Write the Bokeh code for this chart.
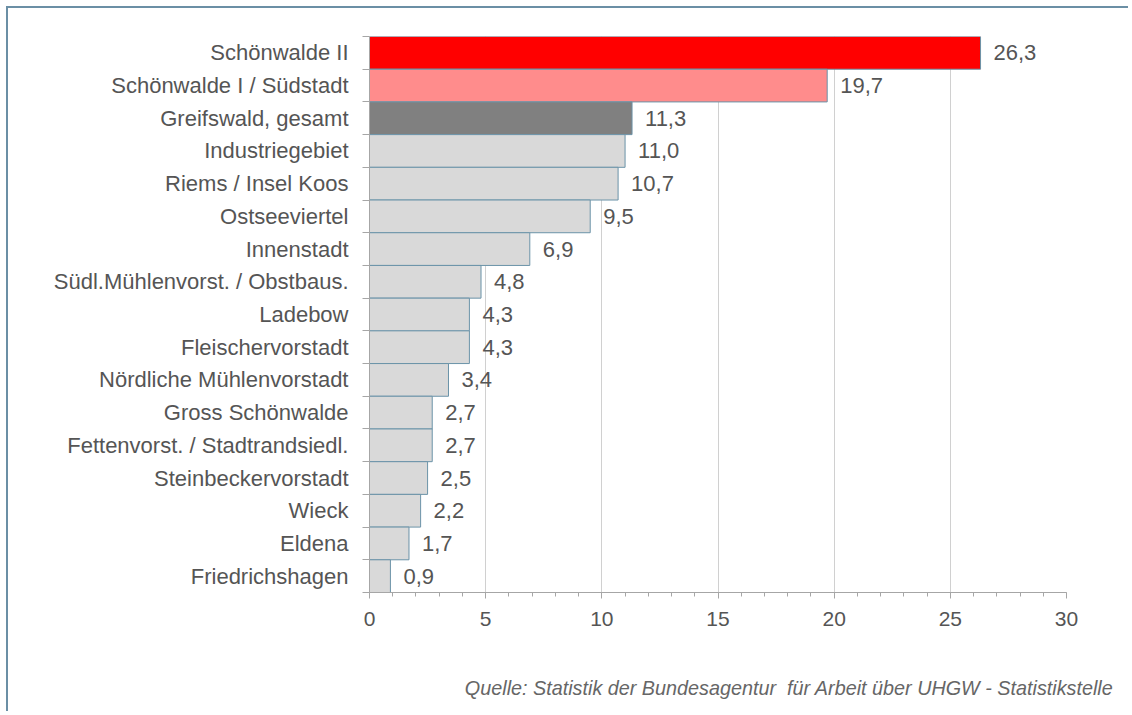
from bokeh.plotting import figure
from bokeh.models import Range1d, FixedTicker, SingleIntervalTicker, Title, ColumnDataSource, LabelSet
from bokeh.core.properties import value
from bokeh.embed import file_html
from bokeh.resources import INLINE

categories = ["Schönwalde II", "Schönwalde I / Südstadt", "Greifswald, gesamt", "Industriegebiet",
              "Riems / Insel Koos", "Ostseeviertel", "Innenstadt", "Südl.Mühlenvorst. / Obstbaus.",
              "Ladebow", "Fleischervorstadt", "Nördliche Mühlenvorstadt", "Gross Schönwalde",
              "Fettenvorst. / Stadtrandsiedl.", "Steinbeckervorstadt", "Wieck", "Eldena", "Friedrichshagen"]
values = [26.3, 19.7, 11.3, 11.0, 10.7, 9.5, 6.9, 4.8, 4.3, 4.3, 3.4, 2.7, 2.7, 2.5, 2.2, 1.7, 0.9]
x_ticks = [0, 5, 10, 15, 20, 25, 30]
source_text = "Quelle: Statistik der Bundesagentur\u00a0 für Arbeit über UHGW - Statistikstelle"

n = len(categories)
ypos = [n - 1 - i for i in range(n)]
colors = ["#ff0000", "#ff8c8c", "#808080"] + ["#d9d9d9"] * (n - 3)
labels = [f"{v:.1f}".replace(".", ",") for v in values]

src = ColumnDataSource(dict(y=ypos, v=values, c=colors, lab=labels))

FONT = "Liberation Sans"
TXT = "#555555"
p = figure(width=1122, height=705, output_backend="svg", toolbar_location=None,
           x_range=Range1d(0, 30), y_range=Range1d(-0.5, n - 0.5),
           min_border_left=361, min_border_right=64, min_border_top=28, min_border_bottom=121)
p.styles = {"border-left": "2px solid #6b8fa5", "border-top": "2px solid #6b8fa5",
            "margin-left": "6px", "margin-top": "6px"}
p.outline_line_color = None

p.hbar(y="y", right="v", left=0, height=1.0, fill_color="c", line_color="#6b93a8", line_width=1, source=src)

p.add_layout(LabelSet(x="v", y="y", text="lab", source=src, x_offset=13, text_baseline="middle",
                      text_font=value(FONT), text_font_size=value("22px"), text_color=TXT))

# x axis
p.xaxis.ticker = SingleIntervalTicker(interval=5, num_minor_ticks=5)
p.xaxis.axis_line_color = "#a6a6a6"
p.xaxis.major_tick_line_color = "#a6a6a6"
p.xaxis.minor_tick_line_color = "#a6a6a6"
p.xaxis.major_tick_out = 6
p.xaxis.major_tick_in = 0
p.xaxis.minor_tick_out = 4
p.xaxis.minor_tick_in = 0
p.xaxis.major_label_standoff = 13
p.xaxis.major_label_text_font = FONT
p.xaxis.major_label_text_font_size = "21px"
p.xaxis.major_label_text_color = TXT
# invisible spacer label to push the source note down
p.xaxis.axis_label = "\u00a0"
p.xaxis.axis_label_text_font_size = "10px"
p.xaxis.axis_label_standoff = 30

# y axis
p.yaxis.ticker = FixedTicker(ticks=ypos, minor_ticks=[i - 0.5 for i in range(n + 1)])
p.yaxis.major_label_overrides = {y: c for y, c in zip(ypos, categories)}
p.yaxis.axis_line_color = "#a6a6a6"
p.yaxis.major_tick_out = 0
p.yaxis.major_tick_in = 0
p.yaxis.minor_tick_out = 7
p.yaxis.minor_tick_in = 0
p.yaxis.minor_tick_line_color = "#a6a6a6"
p.yaxis.major_label_standoff = 14
p.yaxis.major_label_text_font = FONT
p.yaxis.major_label_text_font_size = "22px"
p.yaxis.major_label_text_color = TXT

p.xgrid.ticker = FixedTicker(ticks=x_ticks[1:])
p.xgrid.grid_line_color = "#d0d0d0"
p.ygrid.grid_line_color = None

p.add_layout(Title(text=source_text, align="right", offset=-47, standoff=4, vertical_align="bottom",
                   text_font=FONT, text_font_size="19.8px", text_font_style="italic",
                   text_color="#666666"), "below")

open("out.html", "w").write(file_html(p, INLINE))
